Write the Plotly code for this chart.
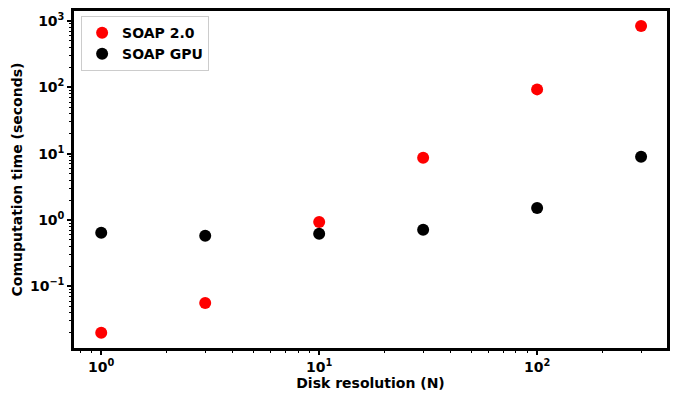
import plotly.graph_objects as go
import numpy as np

N = [1, 3, 10, 30, 100, 300]
soap2 = [0.020, 0.056, 0.93, 8.7, 93, 840]
soap_gpu = [0.64, 0.58, 0.62, 0.71, 1.51, 9.0]

xtick_vals = [1, 10, 100]
xtick_text = ["<b>10<sup>0</sup></b>", "<b>10<sup>1</sup></b>", "<b>10<sup>2</sup></b>"]
ytick_vals = [0.1, 1, 10, 100, 1000]
ytick_text = ["<b>10<sup>−1</sup></b>", "<b>10<sup>0</sup></b>", "<b>10<sup>1</sup></b>",
              "<b>10<sup>2</sup></b>", "<b>10<sup>3</sup></b>"]

font = "DejaVu Sans"
fs = 14

fig = go.Figure()
fig.add_trace(go.Scatter(x=N, y=soap2, mode="markers", name="<b>SOAP 2.0</b>",
                         marker=dict(color="#ff0000", size=12, line=dict(width=0))))
fig.add_trace(go.Scatter(x=N, y=soap_gpu, mode="markers", name="<b>SOAP GPU</b>",
                         marker=dict(color="#000000", size=12, line=dict(width=0))))

axis_common = dict(showline=True, linecolor="black", linewidth=2.5, mirror=True,
                   ticks="outside", tickcolor="black", ticklen=4, tickwidth=1.5,
                   showgrid=False, zeroline=False,
                   tickfont=dict(family=font, size=fs, color="black"))

fig.update_xaxes(type="log", range=[np.log10(0.75), 2.596],
                 tickvals=xtick_vals, ticktext=xtick_text,
                 minor=dict(ticks="outside", ticklen=2, tickcolor="black", tickwidth=1,
                            tickvals=[v * m for v in [0.1, 1, 10, 100] for m in range(2, 10)]),
                 title=dict(text="<b>Disk resolution (N)</b>", font=dict(family=font, size=fs, color="black"),
                            standoff=5),
                 **axis_common)
fig.update_yaxes(type="log", range=[-1.93, 3.15],
                 tickvals=ytick_vals, ticktext=ytick_text,
                 minor=dict(ticks="outside", ticklen=2, tickcolor="black", tickwidth=1,
                            tickvals=[v * m for v in [0.01, 0.1, 1, 10, 100, 1000] for m in range(2, 10)]),
                 title=dict(text="<b>Comuputation time (seconds)</b>", font=dict(family=font, size=fs, color="black"),
                            standoff=5),
                 **axis_common)

fig.update_layout(
    width=682, height=397,
    margin=dict(l=74, r=15, t=8, b=46),
    plot_bgcolor="white", paper_bgcolor="white",
    font=dict(family=font, size=fs, color="black"),
    legend=dict(x=0.012, y=0.985, xanchor="left", yanchor="top",
                bgcolor="rgba(255,255,255,0.8)", bordercolor="#cccccc", borderwidth=1,
                font=dict(family=font, size=fs, color="black"),
                itemsizing="constant", tracegroupgap=0),
    showlegend=True,
)

fig.write_html("out.html")
